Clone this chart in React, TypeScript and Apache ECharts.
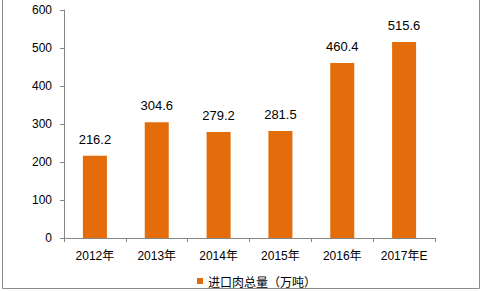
import React, { useEffect, useRef } from "react";
import * as echarts from "echarts";

const categories = ["2012年", "2013年", "2014年", "2015年", "2016年", "2017年E"];
const values = [216.2, 304.6, 279.2, 281.5, 460.4, 515.6];
const seriesName = "进口肉总量（万吨）";
const yTicks = { min: 0, max: 600, interval: 100 };

export default function App() {
  const ref = useRef<HTMLDivElement>(null);
  useEffect(() => {
    if (!ref.current) return;
    const chart = echarts.init(ref.current, null, { renderer: "svg" });
    const font = "'Liberation Sans', 'Noto Sans CJK SC', sans-serif";
    chart.setOption({
      animation: false,
      backgroundColor: "#ffffff",
      textStyle: { fontFamily: font },
      graphic: [
        {
          type: "rect",
          shape: { x: 2.5, y: -2, width: 477, height: 290.5 },
          style: { fill: "none", stroke: "#8c8c8c", lineWidth: 1 },
          silent: true,
        },
      ],
      grid: { left: 64, right: 49, top: 10, bottom: 53 },
      legend: {
        data: [seriesName],
        left: 192,
        top: 270,
        itemWidth: 6,
        itemHeight: 6,
        icon: "rect",
        textStyle: { fontSize: 12, color: "#000", fontFamily: "'Noto Sans CJK SC', sans-serif" },
      },
      xAxis: {
        type: "category",
        data: categories,
        axisLine: { lineStyle: { color: "#868686" } },
        axisTick: { show: true, length: 4, lineStyle: { color: "#868686" } },
        axisLabel: { color: "#000", fontSize: 12, margin: 12, fontFamily: font },
      },
      yAxis: {
        type: "value",
        min: yTicks.min,
        max: yTicks.max,
        interval: yTicks.interval,
        splitLine: { show: false },
        axisLine: { show: true, lineStyle: { color: "#868686" } },
        axisTick: { show: true, length: 4, lineStyle: { color: "#868686" } },
        axisLabel: { color: "#000", fontSize: 12, margin: 12, fontFamily: font },
      },
      series: [
        {
          name: seriesName,
          type: "bar",
          data: values,
          barWidth: 24,
          itemStyle: { color: "#E46C0A" },
          label: {
            show: true,
            position: "top",
            distance: 10,
            color: "#000",
            fontSize: 13,
            fontFamily: font,
            formatter: (p: any) => p.value.toFixed(1),
          },
        },
      ],
    });
    return () => chart.dispose();
  }, []);
  return (
    <div
      ref={ref}
      style={{ position: "absolute", left: 0, top: 0, width: 484, height: 291 }}
    />
  );
}
